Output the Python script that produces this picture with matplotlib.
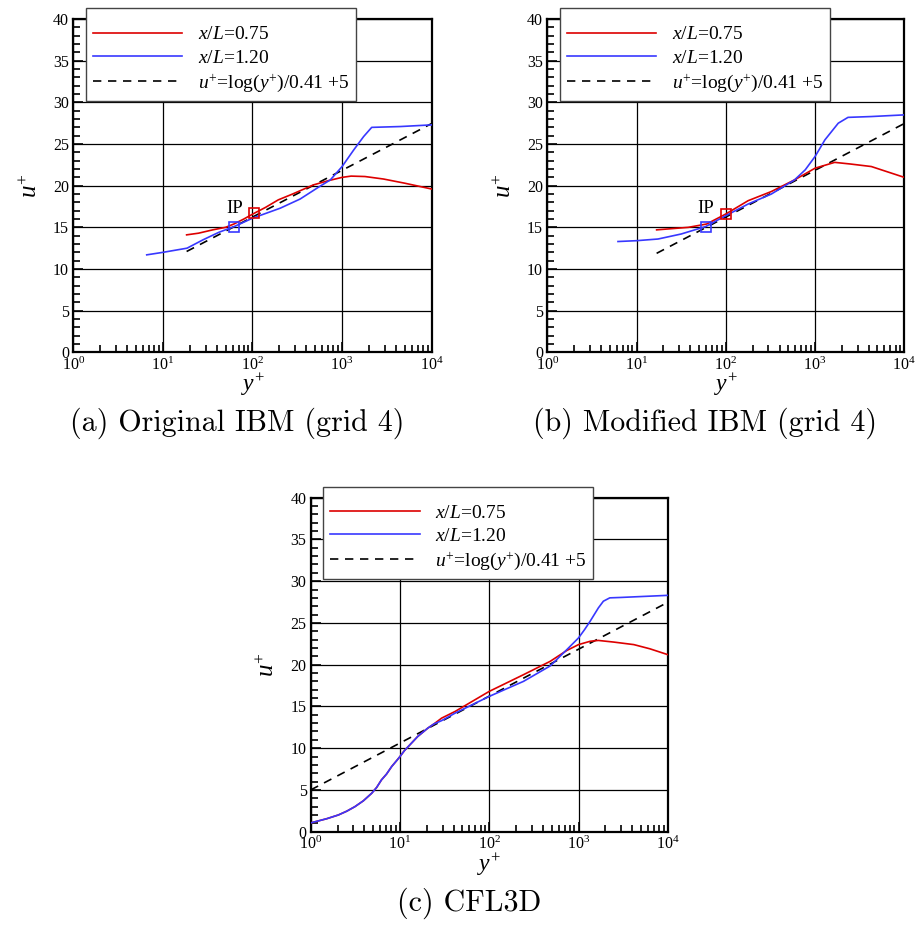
import numpy as np
import matplotlib
matplotlib.use("Agg")
import matplotlib.pyplot as plt
from matplotlib.ticker import FixedLocator, MultipleLocator, LogLocator, NullFormatter

plt.rcParams["font.family"] = ["Liberation Serif", "DejaVu Serif"]
plt.rcParams["mathtext.fontset"] = "custom"
plt.rcParams["mathtext.rm"] = "Liberation Serif"
plt.rcParams["mathtext.it"] = "Liberation Serif:italic"
plt.rcParams["mathtext.bf"] = "Liberation Serif:bold"

# ---- velocity profiles (y+, u+) ----
# (a) Original IBM (grid 4)
a_red_y = [18.4, 25, 36, 50, 62, 80, 105, 140, 194, 280, 480, 700, 1000, 1260, 1800, 2900, 5000, 10000]
a_red_u = [14.1, 14.3, 14.7, 15.0, 15.4, 16.0, 16.7, 17.4, 18.3, 19.0, 20.1, 20.6, 21.0, 21.15, 21.1, 20.8, 20.3, 19.6]
a_blue_y = [6.6, 10, 18.6, 28, 42, 62.7, 100, 204, 340, 560, 740, 1000, 1350, 1740, 2140, 4470, 10000]
a_blue_u = [11.7, 12.0, 12.5, 13.5, 14.4, 15.1, 16.1, 17.3, 18.4, 19.9, 20.7, 22.3, 24.3, 25.9, 27.0, 27.1, 27.3]
a_ip_y = [105, 62.7]
a_ip_u = [16.7, 15.1]
a_log_range = [18.4, 10000]

# (b) Modified IBM (grid 4)
b_red_y = [16.8, 38, 61, 100, 178, 324, 590, 1000, 1660, 2500, 4270, 10000]
b_red_u = [14.7, 15.0, 15.4, 16.6, 18.2, 19.3, 20.7, 22.1, 22.8, 22.6, 22.3, 21.0]
b_blue_y = [6.2, 10, 17.4, 31.6, 59.6, 100, 178, 324, 590, 776, 1000, 1122, 1290, 1820, 2340, 4270, 10000]
b_blue_u = [13.3, 13.4, 13.6, 14.2, 15.1, 16.4, 17.8, 19.0, 20.7, 21.9, 23.5, 24.4, 25.5, 27.5, 28.2, 28.3, 28.5]
b_ip_y = [100, 59.6]
b_ip_u = [16.6, 15.1]
b_log_range = [16.8, 10000]

# (c) CFL3D -- both stations coincide in the near-wall region
c_wall_y = [1, 1.51, 2.04, 2.53, 3.13, 3.89, 4.82, 5.48, 6.2, 7.07, 8.07, 9.16, 10, 11.2, 12.4, 14, 15.8, 18, 20.5, 24]
c_wall_u = [1.05, 1.55, 2.0, 2.45, 3.0, 3.7, 4.6, 5.3, 6.2, 6.9, 7.8, 8.5, 9.0, 9.7, 10.2, 10.8, 11.4, 11.9, 12.4, 12.9]
c_red_y = c_wall_y + [29.3, 41.5, 100, 242, 482, 740, 1000, 1350, 1670, 2500, 4170, 6300, 10000]
c_red_u = c_wall_u + [13.6, 14.4, 16.8, 18.8, 20.4, 21.7, 22.4, 22.8, 22.9, 22.7, 22.4, 21.9, 21.2]
c_blue_y = c_wall_y + [29.3, 41.5, 100, 242, 482, 740, 1000, 1170, 1350, 1670, 1900, 2240, 3000, 10000]
c_blue_u = c_wall_u + [13.3, 14.2, 16.2, 18.0, 19.85, 21.8, 23.2, 24.2, 25.2, 26.8, 27.6, 28.0, 28.05, 28.3]
c_log_range = [1, 10000]

labels = [r"$\mathit{x/L}$=0.75", r"$\mathit{x/L}$=1.20", r"$u^{+}$=log($y^{+}$)/0.41 +5"]
xticks = [1, 10, 100, 1000, 10000]
xticklabels = [r"10$^{0}$", r"10$^{1}$", r"10$^{2}$", r"10$^{3}$", r"10$^{4}$"]
yticks = [0, 5, 10, 15, 20, 25, 30, 35, 40]

RED = "#dd0000"
BLUE = "#3838ff"


def log_law(y):
    y = np.asarray(y, dtype=float)
    return np.log(y) / 0.41 + 5


def panel(ax, ry, ru, by, bu, lrange, ip=None):
    ax.plot(ry, ru, color=RED, lw=1.2, label=labels[0], zorder=3)
    ax.plot(by, bu, color=BLUE, lw=1.2, label=labels[1], zorder=3)
    ly = np.logspace(np.log10(lrange[0]), np.log10(lrange[1]), 50)
    ax.plot(ly, log_law(ly), color="black", lw=1.2, ls=(0, (5, 4)), label=labels[2], zorder=2)
    if ip is not None:
        iy, iu = ip
        ax.plot([iy[0]], [iu[0]], ls="none", marker="s", ms=6.5, mfc="none", mec=RED, mew=1.2, zorder=4)
        ax.plot([iy[1]], [iu[1]], ls="none", marker="s", ms=6.5, mfc="none", mec=BLUE, mew=1.2, zorder=4)
        ax.text(iy[1], 17.25, "IP", ha="center", va="center", fontsize=13.5)
    ax.set_xscale("log")
    ax.set_xlim(1, 10000)
    ax.set_ylim(0, 40)
    ax.xaxis.set_major_locator(FixedLocator(xticks))
    ax.set_xticklabels(xticklabels)
    ax.xaxis.set_minor_locator(LogLocator(base=10, subs=np.arange(2, 10)))
    ax.xaxis.set_minor_formatter(NullFormatter())
    ax.yaxis.set_major_locator(FixedLocator(yticks))
    ax.set_yticklabels([str(v) for v in yticks])
    ax.yaxis.set_minor_locator(MultipleLocator(1))
    ax.tick_params(which="both", direction="in", top=False, right=False, labelsize=11.5, width=1.2)
    ax.tick_params(which="major", length=7)
    ax.tick_params(axis="x", which="major", pad=3)
    ax.tick_params(axis="y", which="major", pad=3)
    ax.tick_params(which="minor", length=5)
    ax.grid(which="major", color="black", lw=0.9)
    for s in ax.spines.values():
        s.set_linewidth(1.6)
    ax.set_xlabel(r"$y^{+}$", fontsize=17)
    ax.set_ylabel(r"$u^{+}$", fontsize=18)
    ax.xaxis.set_label_coords(0.5, -0.058)
    ax.yaxis.set_label_coords(-0.088, 0.5)
    leg = ax.legend(loc="upper left", bbox_to_anchor=(0.0346, 1.032), borderaxespad=0,
                    fontsize=14, handlelength=4.6, handletextpad=0.8, labelspacing=0.28,
                    borderpad=0.36, fancybox=False, framealpha=1, edgecolor="#444444",
                    title=" ", title_fontsize=5)
    leg.get_frame().set_linewidth(1.0)
    leg.set_zorder(10)


fig = plt.figure(figsize=(9.15, 9.25), dpi=100)
ax_a = fig.add_axes([0.0801, 0.6191, 0.3917, 0.3603])
ax_b = fig.add_axes([0.5981, 0.6191, 0.3902, 0.3603])
ax_c = fig.add_axes([0.3396, 0.1009, 0.3902, 0.3611])

panel(ax_a, a_red_y, a_red_u, a_blue_y, a_blue_u, a_log_range, (a_ip_y, a_ip_u))
panel(ax_b, b_red_y, b_red_u, b_blue_y, b_blue_u, b_log_range, (b_ip_y, b_ip_u))
panel(ax_c, c_red_y, c_red_u, c_blue_y, c_blue_u, c_log_range)

cap = dict(fontfamily="cmr10", fontsize=21.6, ha="center", va="center")
fig.text(237 / 915, 1 - 423 / 925, "(a) Original IBM (grid 4)", **cap)
fig.text(705 / 915, 1 - 423 / 925, "(b) Modified IBM (grid 4)", **cap)
fig.text(469 / 915, 1 - 903 / 925, "(c) CFL3D", **cap)

fig.savefig("out.png", dpi=100)
